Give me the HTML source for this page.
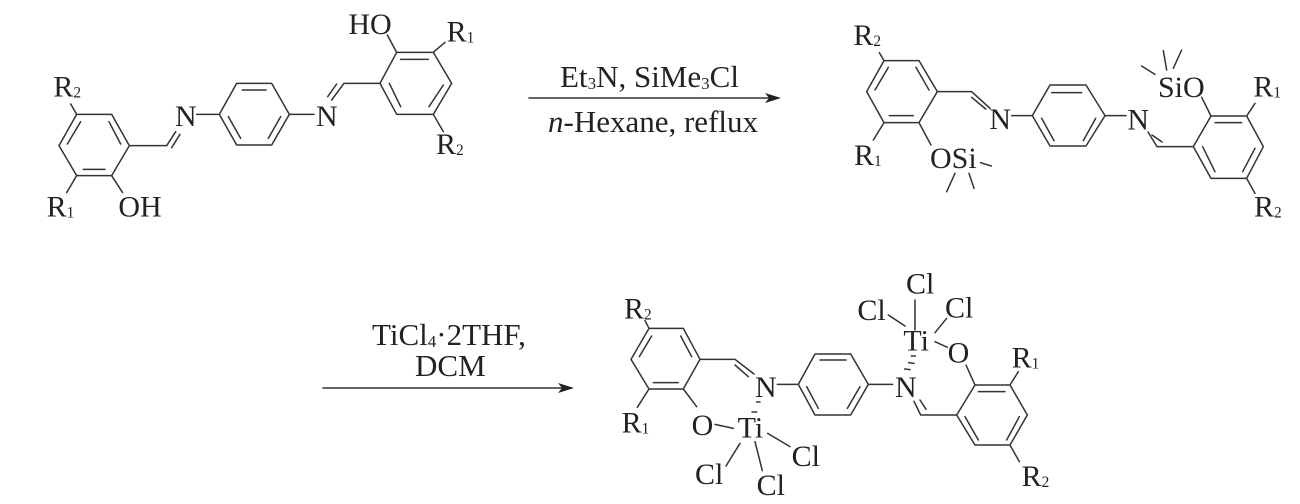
<!DOCTYPE html>
<html><head><meta charset="utf-8"><style>
html,body{margin:0;padding:0;background:#fff;width:1300px;height:504px;overflow:hidden}
svg{display:block}
text{font-family:"Liberation Serif",serif;fill:#222;font-size:90px}
text.t{font-size:31px}
path{fill:none;stroke:#333;stroke-width:4.5;stroke-linecap:round;stroke-linejoin:round}
tspan.s{font-size:46px}
tspan.u{font-size:17px}
</style></head><body>
<svg width="1300" height="504" viewBox="0 0 1300 504" xmlns="http://www.w3.org/2000/svg">
<rect width="1300" height="504" fill="#fff"/>

<!-- Structure 1 -->
<g transform="translate(30,0) scale(.33333)">
<path d="M140 343H245L298 437L245 527H140L87 437Z M152 365L112 432 M237 365L272 432 M160 508H225 M140 343L122 312 M140 527L110 578 M245 527L278 578 M298 437H410L437 395 M425 443L450 403 M500 343H568 M568 343L620 250H725L778 343L725 435H620Z M637 270H708 M595 350L632 415 M752 350L715 415 M778 343H852 M905 300L942 250 M893 290L920 252 M942 250H1050 M1050 250L1100 157H1210L1265 250L1210 343H1100Z M1112 178H1195 M1078 250L1112 320 M1240 255L1197 320 M1100 157L1072 105 M1210 157L1245 127 M1210 343L1240 395"/>
<text x="70" y="290">R<tspan class="s" dy="3">2</tspan></text>
<text x="50" y="650">R<tspan class="s" dy="3">1</tspan></text>
<text x="265" y="650">OH</text>
<text x="435" y="378">N</text>
<text x="858" y="378">N</text>
<text x="955" y="102">HO</text>
<text x="1250" y="125">R<tspan class="s" dy="3">1</tspan></text>
<text x="1218" y="462">R<tspan class="s" dy="3">2</tspan></text>
</g>

<!-- Reaction 1 -->
<g>
<path d="M529 98H775" style="stroke-width:1.6"/>
<polygon points="765,93 781,98 765,103 769,98" fill="#222"/>
<text class="t" x="560" y="87">Et<tspan class="u" dy="2">3</tspan><tspan dy="-2">N, SiMe</tspan><tspan class="u" dy="2">3</tspan><tspan dy="-2">Cl</tspan></text>
<text class="t" x="548" y="132"><tspan font-style="italic">n</tspan>-Hexane, reflux</text>
<path d="M323 388H568" style="stroke-width:1.6"/>
<polygon points="558,383 574,388 558,393 562,388" fill="#222"/>
<text class="t" x="372" y="345">TiCl<tspan class="u" dy="2">4</tspan><tspan dy="-2">·2THF,</tspan></text>
<text class="t" x="415" y="376">DCM</text>
</g>

<!-- Structure 2 -->
<g transform="translate(830,10) scale(.33333)">
<path d="M162 152H267L322 245L267 338H162L110 245Z M175 172L135 240 M258 172L297 240 M178 317H250 M162 152L148 128 M162 338L130 390 M267 338L303 405 M452 458L484 468 M375 490L350 545 M417 490L432 535 M322 245H425L480 295 M425 262L467 297 M545 317H607 M607 317L660 225H768L825 317L768 408H660Z M665 248H755 M635 325L672 392 M797 325L760 392 M825 317H888 M954 366L981 410 M966 375L996 396 M981 410H1090 M1090 410L1143 318H1250L1300 410L1250 505H1143Z M1155 338H1235 M1118 410L1155 485 M1275 415L1238 485 M1143 318L1115 262 M1250 318L1275 280 M1250 505L1275 550 M935 168L975 193 M1000 122L1010 180 M1055 120L1030 175"/>
<text x="70" y="105">R<tspan class="s" dy="3">2</tspan></text>
<text x="72" y="465">R<tspan class="s" dy="3">1</tspan></text>
<text x="300" y="474">OSi</text>
<text x="478" y="357">N</text>
<text x="892" y="358">N</text>
<text x="984" y="261">SiO</text>
<text x="1270" y="260">R<tspan class="s" dy="3">1</tspan></text>
<text x="1272" y="620">R<tspan class="s" dy="3">2</tspan></text>
</g>

<!-- Structure 3 -->
<g transform="translate(600,260) scale(.33333)">
<path d="M147 205H250L300 298L250 387H147L93 298Z M155 228L118 290 M242 228L275 290 M160 368H235 M147 205L135 182 M147 387L112 442 M250 387L290 440 M300 298H405L462 342 M405 315L445 350 M532 373H595 M595 373L645 282H752L805 373L752 465H645Z M660 300H738 M620 380L655 445 M780 380L742 445 M805 373H878 M942 424L962 465 M960 420L978 448 M962 465H1070 M1070 465L1125 375H1230L1282 465L1230 555H1125Z M1135 395H1215 M1095 470L1135 540 M1258 470L1220 540 M1125 375L1098 315 M1230 375L1255 335 M1230 555L1258 605 M945 120V210 M865 165L915 198 M1040 175L1005 218 M1005 245L1042 262 M345 493L400 505 M503 520L570 560 M420 550L378 618 M465 545L487 632 M934 288L946 288 M926 308L942 310 M914 327L930 329 M470 426L480 426 M456 456L470 456"/>
<text x="72" y="175">R<tspan class="s" dy="3">2</tspan></text>
<text x="65" y="518">R<tspan class="s" dy="3">1</tspan></text>
<text x="275" y="525">O</text>
<text x="465" y="411">N</text>
<text x="885" y="411">N</text>
<text x="1043" y="308">O</text>
<text x="910" y="272">Ti</text>
<text x="413" y="532">Ti</text>
<text x="918" y="100">Cl</text>
<text x="772" y="180">Cl</text>
<text x="1035" y="172">Cl</text>
<text x="575" y="618">Cl</text>
<text x="285" y="672">Cl</text>
<text x="470" y="705">Cl</text>
<text x="1235" y="322">R<tspan class="s" dy="3">1</tspan></text>
<text x="1265" y="678">R<tspan class="s" dy="3">2</tspan></text>
</g>
</svg>
</body></html>
